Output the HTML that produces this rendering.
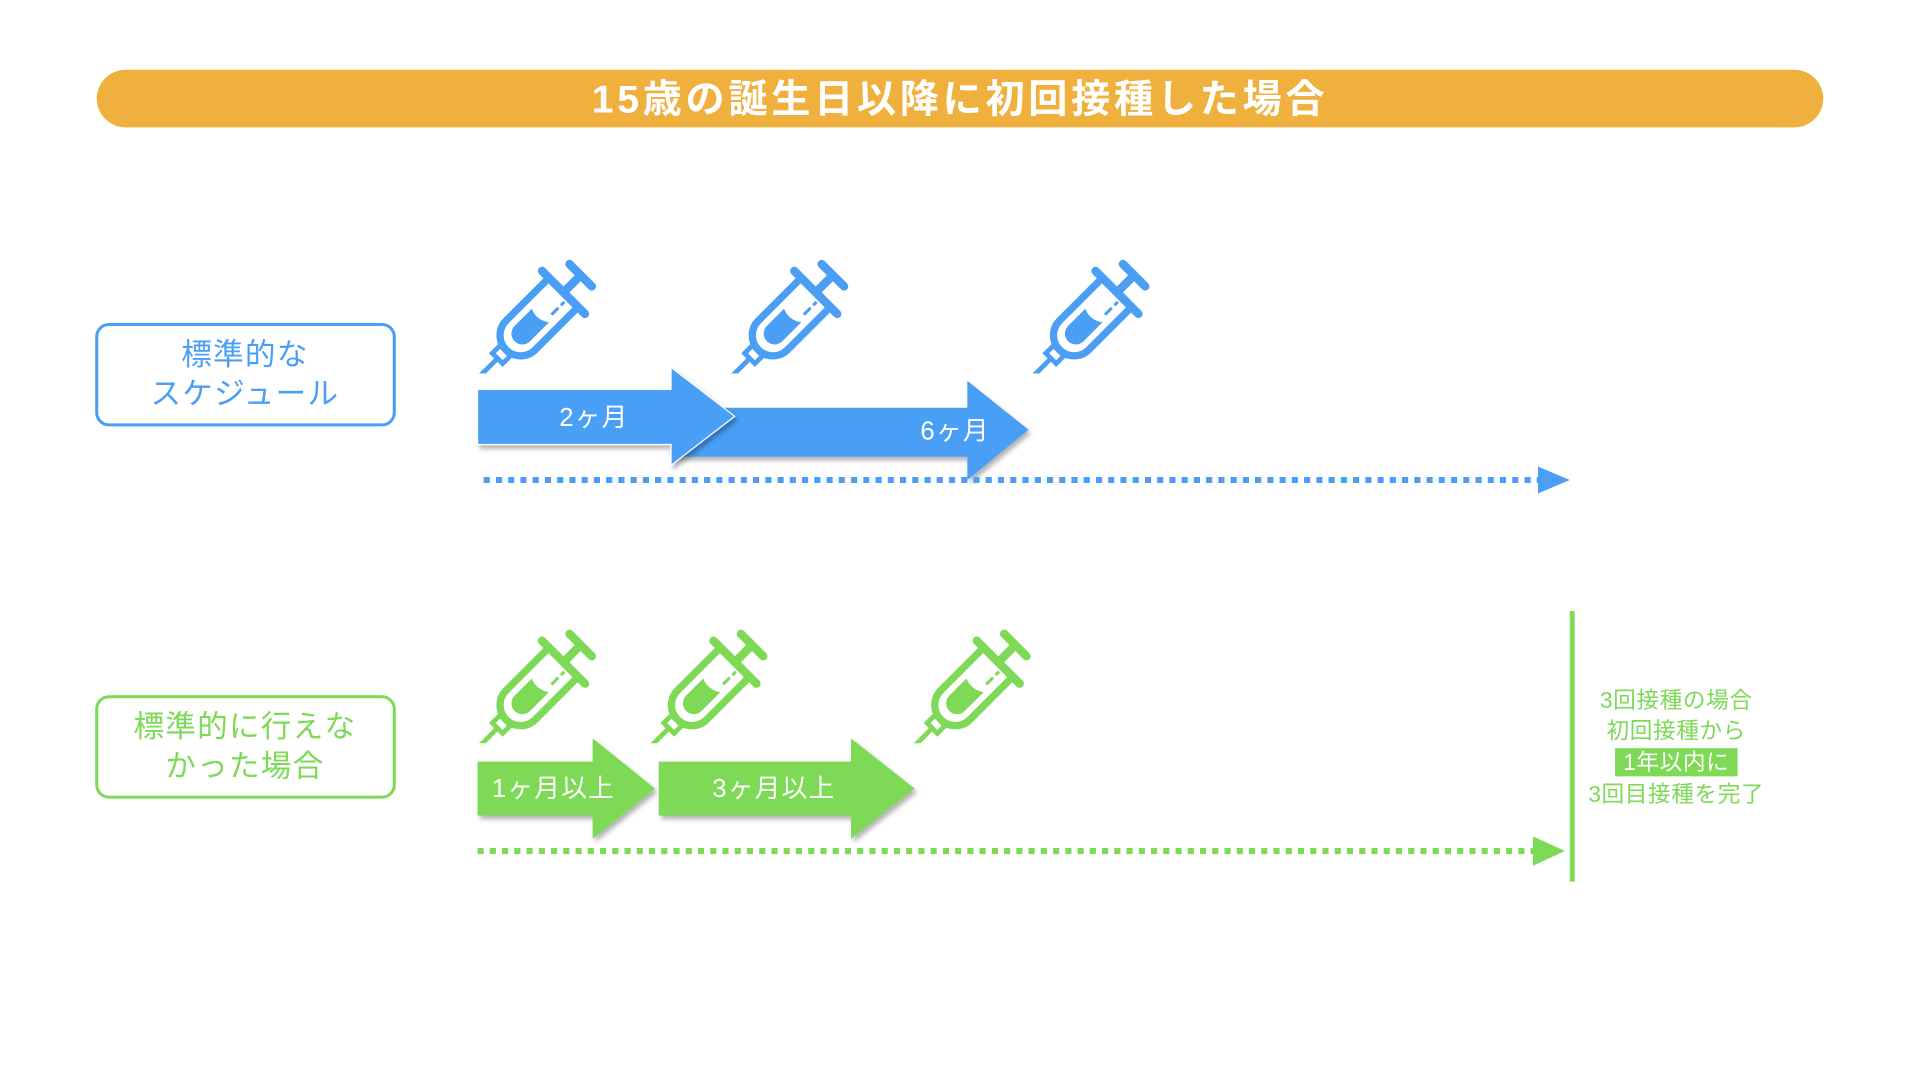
<!DOCTYPE html>
<html><head><meta charset="utf-8"><style>
html,body{margin:0;padding:0;background:#fff;}
svg{display:block;}
text{font-family:"Liberation Sans","Noto Sans CJK JP",sans-serif;}
</style></head><body>
<svg width="1920" height="1080" viewBox="0 0 1568 882" xmlns="http://www.w3.org/2000/svg">
<defs>
<g id="syr">
  <line x1="0" y1="0" x2="0" y2="-30" stroke-width="4"/>
  <rect x="-6" y="-38" width="12" height="9" fill="none" stroke-width="4"/>
  <path d="M-17,-104 L-17,-56 A17,17 0 0 0 17,-56 L17,-104" fill="none" stroke-width="6"/>
  <path d="M-9,-78 L-9,-58 A9,9 0 0 0 9,-58 L9,-80 Q0,-74 -9,-78Z" stroke="none"/>
  <line x1="6" y1="-86" x2="6" y2="-94" stroke-width="2.5"/>
  <line x1="6" y1="-97" x2="6" y2="-101" stroke-width="2.5"/>
  <line x1="-25" y1="-106" x2="25" y2="-106" stroke-width="7" stroke-linecap="round"/>
  <line x1="0" y1="-106" x2="0" y2="-124" stroke-width="7"/>
  <line x1="-13" y1="-126" x2="13" y2="-126" stroke-width="7" stroke-linecap="round"/>
</g>
<filter id="sh" x="-10%" y="-10%" width="130%" height="130%"><feDropShadow dx="2" dy="3" stdDeviation="2" flood-color="#000" flood-opacity="0.3"/></filter>
</defs>

<rect x="79" y="57" width="1410" height="47" rx="23.5" fill="#F0B03E"/>
<text x="784" y="92" text-anchor="middle" font-size="32" font-weight="bold" fill="#fff" letter-spacing="3">15歳の誕生日以降に初回接種した場合</text>

<rect x="79" y="265" width="243" height="82" rx="10" fill="none" stroke="#4A9FF5" stroke-width="2.5"/>
<text x="200" y="298" text-anchor="middle" font-size="25" fill="#4A9FF5" letter-spacing="1">標準的な</text>
<text x="200" y="330" text-anchor="middle" font-size="25" fill="#4A9FF5" letter-spacing="1">スケジュール</text>

<rect x="79" y="569" width="243" height="82" rx="10" fill="none" stroke="#7ED957" stroke-width="2.5"/>
<text x="200" y="602" text-anchor="middle" font-size="25" fill="#7ED957" letter-spacing="1">標準的に行えな</text>
<text x="200" y="634" text-anchor="middle" font-size="25" fill="#7ED957" letter-spacing="1">かった場合</text>

<g fill="#4A9FF5" stroke="#4A9FF5">
<use href="#syr" transform="translate(386,313) rotate(45) scale(0.99)"/>
<use href="#syr" transform="translate(592,313) rotate(45) scale(0.99)"/>
<use href="#syr" transform="translate(838,313) rotate(45) scale(0.99)"/>
</g>
<rect x="380" y="305" width="575" height="12" fill="#fff"/>

<path d="M548,333 L790,333 L790,311 L840,351 L790,392 L790,373 L548,373Z" fill="#4A9FF5" filter="url(#sh)"/>
<path d="M390,318 L548,318 L548,300 L600,340 L548,380 L548,363 L390,363Z" fill="#4A9FF5" filter="url(#sh)" stroke="#fff" stroke-width="1"/>
<text x="485" y="348" text-anchor="middle" font-size="21" fill="#fff" letter-spacing="1">2ヶ月</text>
<text x="780" y="359" text-anchor="middle" font-size="21" fill="#fff" letter-spacing="1">6ヶ月</text>

<line x1="395" y1="392" x2="1258" y2="392" stroke="#4A9FF5" stroke-width="5" stroke-dasharray="5,5"/>
<path d="M1256,381 L1282,392 L1256,403Z" fill="#4A9FF5"/>

<g fill="#7ED957" stroke="#7ED957">
<use href="#syr" transform="translate(386,615) rotate(45) scale(0.99)"/>
<use href="#syr" transform="translate(526,615) rotate(45) scale(0.99)"/>
<use href="#syr" transform="translate(741,615) rotate(45) scale(0.99)"/>
</g>
<rect x="380" y="607" width="475" height="12" fill="#fff"/>

<path d="M390,622 L484,622 L484,603 L535,644 L484,685 L484,666 L390,666Z" fill="#7ED957" filter="url(#sh)"/>
<path d="M538,622 L695,622 L695,603 L747,644 L695,685 L695,666 L538,666Z" fill="#7ED957" filter="url(#sh)"/>
<text x="452" y="651" text-anchor="middle" font-size="21" fill="#fff" letter-spacing="1">1ヶ月以上</text>
<text x="632" y="651" text-anchor="middle" font-size="21" fill="#fff" letter-spacing="1">3ヶ月以上</text>

<line x1="390" y1="695" x2="1252" y2="695" stroke="#7ED957" stroke-width="5" stroke-dasharray="5,5"/>
<path d="M1252,683 L1278,695 L1252,707Z" fill="#7ED957"/>
<rect x="1282" y="499" width="4" height="221" fill="#7ED957"/>

<g font-size="18.5" fill="#7ED957" text-anchor="middle" letter-spacing="0.5">
<text x="1369" y="578">3回接種の場合</text>
<text x="1369" y="603">初回接種から</text>
<rect x="1319" y="611" width="100" height="23" fill="#7ED957"/>
<text x="1369" y="629" fill="#fff">1年以内に</text>
<text x="1369" y="655">3回目接種を完了</text>
</g>
</svg>
</body></html>
